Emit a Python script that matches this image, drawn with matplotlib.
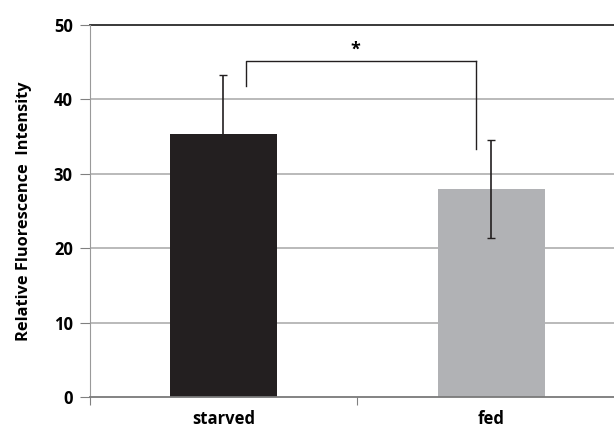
import numpy as np
import matplotlib.pyplot as plt

groups = ['starved', 'fed']
means = [35.3, 28.0]
errs = [8.05, 6.55]
bar_colors = ['#231f20', '#b1b2b5']

plt.rcParams['font.family'] = ['Open Sans', 'DejaVu Sans']

fig = plt.figure(figsize=(6.14, 4.29), dpi=100)
# axes runs slightly past the right edge of the figure
ax = fig.add_axes([89.5 / 614, 1 - 397.3 / 429, (625 - 89.5) / 614, (397.3 - 25) / 429])

x = np.arange(len(groups))
ax.bar(x, means, width=0.4, color=bar_colors, zorder=2)
ax.errorbar(x, means, yerr=errs, fmt='none', ecolor='#231f20', elinewidth=1.2,
            capsize=3, capthick=1.0, zorder=3)

ax.set_xlim(-0.5, 1.5)
ax.set_ylim(0, 50)
ax.set_yticks([0, 10, 20, 30, 40, 50])
ax.set_xticks([-0.5, 0.5, 1.5], minor=False)
ax.set_xticklabels(['', '', ''])
ax.set_xticks(x, minor=True)
ax.set_xticklabels(groups, minor=True)
ax.tick_params(axis='x', which='minor', length=0, pad=9, labelsize=12)
ax.tick_params(axis='x', which='major', length=6, color='#808080')
ax.tick_params(axis='y', length=7, color='#808080', pad=5, labelsize=12)
for lab in ax.get_xticklabels(minor=True) + ax.get_yticklabels():
    lab.set_fontweight('bold')

for v in [10, 20, 30, 40]:
    ax.axhline(v, color='#b4b4b4', lw=1.3, zorder=1)
ax.axhline(50, color='#2a2a2a', lw=1.3, zorder=1, clip_on=False)

for s in ['top', 'right']:
    ax.spines[s].set_visible(False)
ax.spines['left'].set_color('#9a9a9a')
ax.spines['bottom'].set_color('#7a7a7a')
ax.spines['bottom'].set_linewidth(1.3)

ax.set_ylabel('Relative Fluorescence  Intensity', fontsize=11.8, fontweight='bold', labelpad=16)

# significance bracket
ax.plot([0.085, 0.085, 0.944], [41.8, 45.2, 45.2], color='#231f20', lw=1.0, zorder=3)
ax.plot([0.944, 0.944], [45.2, 33.4], color='#231f20', lw=1.0, zorder=3)
ax.text(0.494, 46.9, '*', ha='center', va='center_baseline', fontsize=13, fontweight='bold')

fig.savefig('out.png', dpi=100)
